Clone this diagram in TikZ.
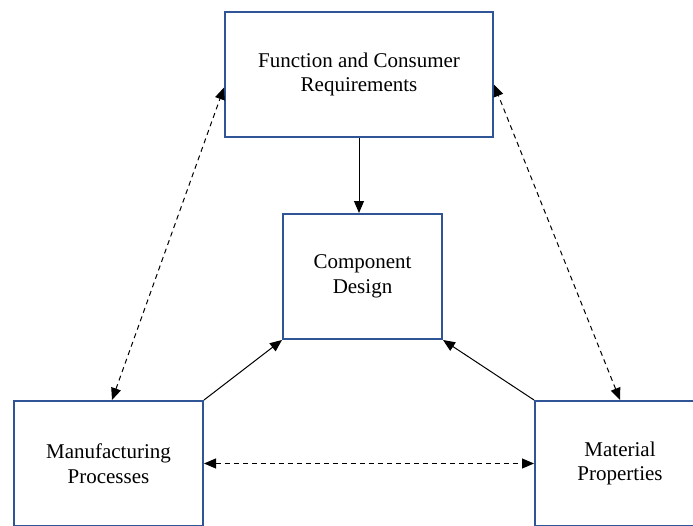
\documentclass[tikz,border=0pt]{standalone}
\usepackage{fontspec}
\setmainfont{Liberation Serif}
\usepackage{tikz}
\usetikzlibrary{arrows.meta, positioning}
\definecolor{boxblue}{HTML}{2F5597}
\tikzset{>={Triangle[length=12pt,width=10pt]},
    x=1pt, y=-1pt,
    block/.style={rectangle,draw=boxblue,line width=2pt,align=center,
        inner sep=0pt,minimum height=125pt,
        font=\fontsize{21}{24.5}\selectfont},
    link/.style={->,line width=1pt},
    twoway/.style={<->,line width=1pt,dash pattern=on 5pt off 4pt}}

\begin{document}
\begin{tikzpicture}
\clip (0,0) rectangle (693,525);
\node[block] (func)   [minimum width=268pt] at (359,74.5)    {Function and Consumer\\Requirements};
\node[block] (design) [minimum width=159pt] at (362.5,276.5) {Component\\Design};
\node[block] (manuf)  [minimum width=189pt] at (108.5,463.5) {Manufacturing\\Processes};
\node[block] (matl)   [minimum width=170pt] at (620,463.5)   {Material\\Properties};
\path[link]
    (func.south)        edge  (func.south |- design.north)
    (manuf.north east)  edge  (design.south west)
    (matl.north west)   edge  (design.south east);
\path[twoway]
    ([xshift=3.5pt]manuf.north)  edge  ([yshift=-13pt]func.west)
    (matl.north)                 edge  ([yshift=-10pt]func.east)
    (manuf.east)                 edge  (matl.west);
\end{tikzpicture}
\end{document}
